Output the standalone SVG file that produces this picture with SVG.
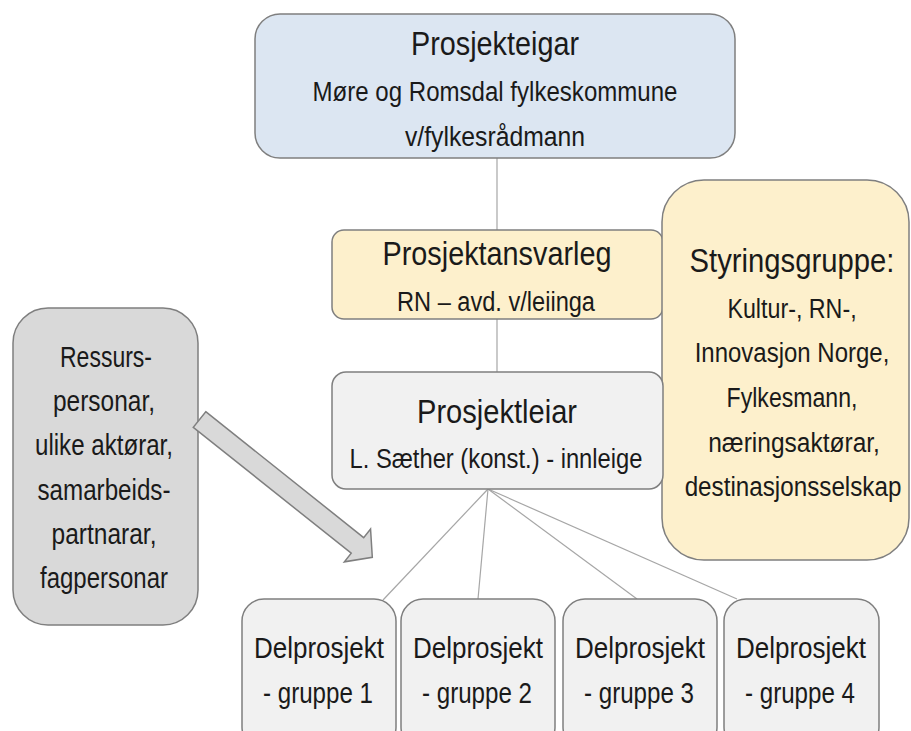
<svg xmlns="http://www.w3.org/2000/svg" width="911" height="731" viewBox="0 0 911 731">
<style>
.box{stroke:#7f7f7f;stroke-width:1.5}
.blue{fill:#dce6f2}
.yellow{fill:#fdf0cc}
.light{fill:#f1f1f1}
.grey{fill:#d9d9d9}
text{font-family:"Liberation Sans",Arial,sans-serif;fill:#1a1a1a;text-anchor:middle}
.t{font-size:33px}
.s{font-size:27px}
.b{font-size:29px}
.conn line{stroke:#a6a6a6;stroke-width:1.2}
</style>
<rect width="911" height="731" fill="#ffffff"/>
<g id="connectors" class="conn">
<line x1="497" y1="158" x2="497" y2="230"/>
<line x1="497" y1="319" x2="497" y2="372"/>
<line x1="488" y1="489" x2="383" y2="600"/>
<line x1="488" y1="489" x2="478" y2="599"/>
<line x1="488" y1="489" x2="637" y2="599"/>
<line x1="488" y1="489" x2="737" y2="599"/>
</g>
<g id="prosjekteigar">
<rect class="box blue" x="255" y="14" width="480" height="144" rx="25"/>
<text class="t" x="495" y="55" textLength="168" lengthAdjust="spacingAndGlyphs">Prosjekteigar</text>
<text class="s" x="495" y="101" textLength="365" lengthAdjust="spacingAndGlyphs">Møre og Romsdal fylkeskommune</text>
<text class="s" x="495" y="146" textLength="180" lengthAdjust="spacingAndGlyphs">v/fylkesrådmann</text>
</g>
<g id="prosjektansvarleg">
<rect class="box yellow" x="332" y="230" width="331" height="89" rx="12"/>
<text class="t" x="497" y="265" textLength="229" lengthAdjust="spacingAndGlyphs">Prosjektansvarleg</text>
<text class="s" x="496" y="311" textLength="198" lengthAdjust="spacingAndGlyphs">RN – avd. v/leiinga</text>
</g>
<g id="styringsgruppe">
<rect class="box yellow" x="662" y="180" width="247" height="380" rx="42"/>
<g transform="translate(792,0) scale(0.85,1)">
<text class="t" x="0" y="272" textLength="241" lengthAdjust="spacingAndGlyphs">Styringsgruppe:</text>
<text class="s" x="0" y="318" textLength="152" lengthAdjust="spacingAndGlyphs">Kultur-, RN-,</text>
<text class="s" x="0" y="362" textLength="229" lengthAdjust="spacingAndGlyphs">Innovasjon Norge,</text>
<text class="s" x="0" y="407" textLength="154" lengthAdjust="spacingAndGlyphs">Fylkesmann,</text>
<text class="s" x="2.4" y="452" textLength="202" lengthAdjust="spacingAndGlyphs">næringsaktørar,</text>
<text class="s" x="1.2" y="496" textLength="255" lengthAdjust="spacingAndGlyphs">destinasjonsselskap</text>
</g>
</g>
<g id="prosjektleiar">
<rect class="box light" x="332" y="372" width="331" height="117" rx="14"/>
<text class="t" x="497" y="423" textLength="160" lengthAdjust="spacingAndGlyphs">Prosjektleiar</text>
<text class="s" x="496" y="468" textLength="293" lengthAdjust="spacingAndGlyphs">L. Sæther (konst.) - innleige</text>
</g>
<g id="ressurs">
<rect class="box grey" x="13" y="308" width="185" height="317" rx="35"/>
<text class="b" x="106" y="367" textLength="92" lengthAdjust="spacingAndGlyphs">Ressurs-</text>
<text class="b" x="104" y="411" textLength="102" lengthAdjust="spacingAndGlyphs">personar,</text>
<text class="b" x="104" y="455" textLength="138" lengthAdjust="spacingAndGlyphs">ulike aktørar,</text>
<text class="b" x="104" y="500" textLength="133" lengthAdjust="spacingAndGlyphs">samarbeids-</text>
<text class="b" x="104" y="544" textLength="105" lengthAdjust="spacingAndGlyphs">partnarar,</text>
<text class="b" x="104" y="588" textLength="128" lengthAdjust="spacingAndGlyphs">fagpersonar</text>
</g>
<g id="arrow">
<path d="M0,-10 L202,-10 L202,-21 L221,0 L202,21 L202,10 L0,10 Z" transform="translate(199.5,419.5) rotate(38.56)" fill="#d9d9d9" stroke="#7f7f7f" stroke-width="1.5"/>
</g>
<g id="delprosjekt1">
<rect class="box light" x="242" y="599" width="154" height="150" rx="22"/>
<text class="b" x="319" y="658" textLength="130" lengthAdjust="spacingAndGlyphs">Delprosjekt</text>
<text class="b" x="318" y="703" textLength="110" lengthAdjust="spacingAndGlyphs">- gruppe 1</text>
</g>
<g id="delprosjekt2">
<rect class="box light" x="401" y="599" width="154" height="150" rx="22"/>
<text class="b" x="478" y="658" textLength="130" lengthAdjust="spacingAndGlyphs">Delprosjekt</text>
<text class="b" x="477" y="703" textLength="110" lengthAdjust="spacingAndGlyphs">- gruppe 2</text>
</g>
<g id="delprosjekt3">
<rect class="box light" x="563" y="599" width="154" height="150" rx="22"/>
<text class="b" x="640" y="658" textLength="130" lengthAdjust="spacingAndGlyphs">Delprosjekt</text>
<text class="b" x="639" y="703" textLength="110" lengthAdjust="spacingAndGlyphs">- gruppe 3</text>
</g>
<g id="delprosjekt4">
<rect class="box light" x="724" y="599" width="155" height="150" rx="22"/>
<text class="b" x="801" y="658" textLength="130" lengthAdjust="spacingAndGlyphs">Delprosjekt</text>
<text class="b" x="800" y="703" textLength="110" lengthAdjust="spacingAndGlyphs">- gruppe 4</text>
</g>
</svg>
